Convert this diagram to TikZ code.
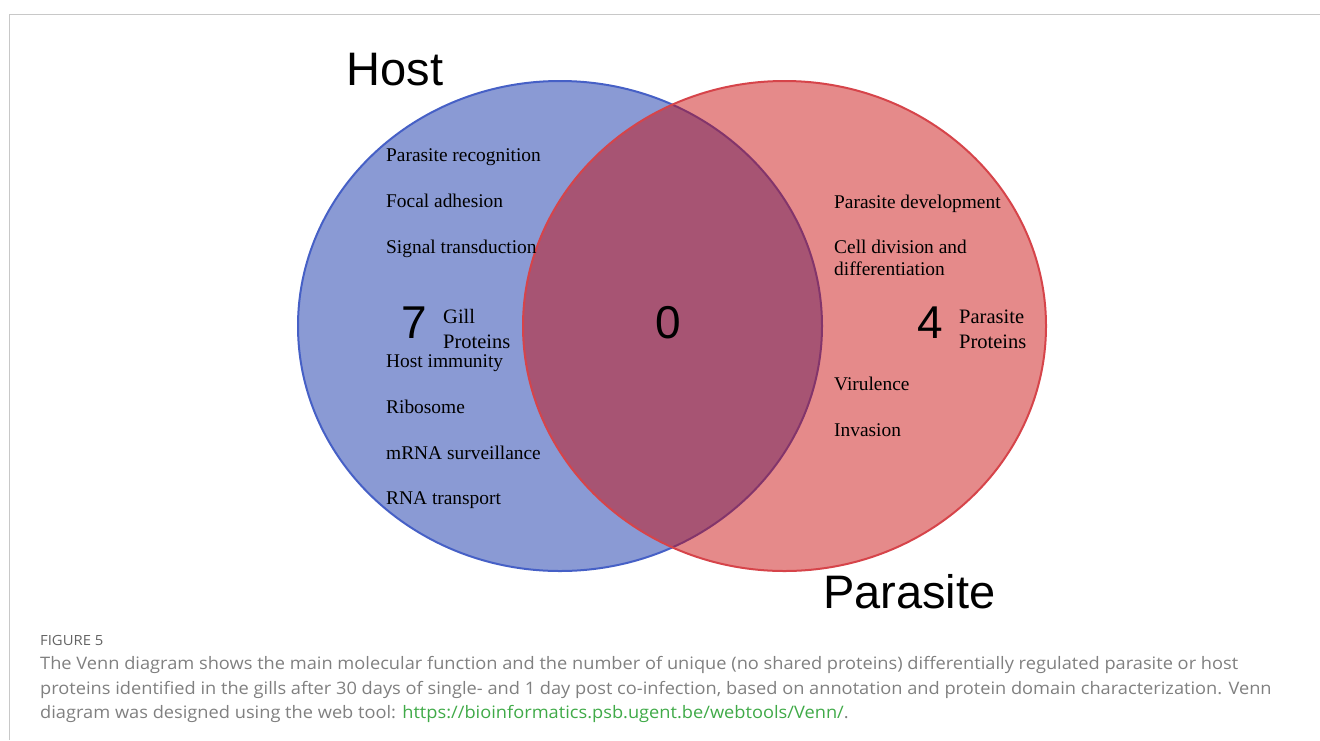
\documentclass[tikz,border=0pt]{standalone}
\usepackage{fontspec}
\setmainfont{Liberation Serif}
\newfontfamily\bigsans{Liberation Sans}
\newfontfamily\capfont[FakeStretch=1.06]{Open Sans}
\definecolor{framegray}{RGB}{200,200,200}
\definecolor{hostfill}{RGB}{138,154,212}
\definecolor{hoststroke}{RGB}{70,96,198}
\definecolor{parafill}{RGB}{200,6,6}
\definecolor{parastroke}{RGB}{214,68,74}
\definecolor{captext}{RGB}{128,128,128}
\definecolor{capfig}{RGB}{100,100,100}
\definecolor{linkgreen}{RGB}{64,170,72}
\tikzset{
  lbl/.style={anchor=base west, inner sep=0pt, font=\fontsize{19.4}{22}\selectfont},
  biglbl/.style={anchor=base west, inner sep=0pt, font=\bigsans\fontsize{47}{54}\selectfont},
  num/.style={anchor=base, inner sep=0pt, font=\bigsans\fontsize{46}{52}\selectfont},
  grp/.style={anchor=base west, inner sep=0pt, align=left, font=\fontsize{20.5}{25}\selectfont},
  captxt/.style={anchor=base west, inner sep=0pt, text=captext, font=\capfont\fontsize{17.2}{20}\selectfont},
}
\begin{document}
\begin{tikzpicture}[x=1pt,y=-1pt]
\useasboundingbox (0,0) rectangle (1320,740);
% frame
\draw[framegray, line width=1pt] (9.5,740) -- (9.5,14.5) -- (1320,14.5);
% circles
\draw[fill=hostfill, draw=hoststroke, line width=2pt] (560,326) ellipse [x radius=262, y radius=245];
\draw[fill=parafill, fill opacity=0.47, draw=parastroke, line width=2pt] (784.5,326) ellipse [x radius=261.5, y radius=245];
% titles
\node[biglbl] (host) at (346.5,85) {Host};
\node[biglbl] (parasite) at (823,608) {Parasite};
% numbers
\node[num] (n7) at (414,338) {7};
\node[num] (n0) at (668.5,338) {0};
\node[num] (n4) at (930,338) {4};
\node[grp] (gill) at (443,348) {Gill\\Proteins};
\node[grp] (pp) at (959,348) {Parasite\\Proteins};
% host labels
\node[lbl] (h1) at (386,161) {Parasite recognition};
\node[lbl] (h2) at (386,207) {Focal adhesion};
\node[lbl] (h3) at (386,253) {Signal transduction};
\node[lbl] (h4) at (386,367) {Host immunity};
\node[lbl] (h5) at (386,413) {Ribosome};
\node[lbl] (h6) at (386,459) {mRNA surveillance};
\node[lbl] (h7) at (386,504) {RNA transport};
% parasite labels
\node[lbl] (p1) at (834,208) {Parasite development};
\node[lbl] (p2) at (834,253) {Cell division and};
\node[lbl] (p3) at (834,275) {differentiation};
\node[lbl] (p4) at (834,390) {Virulence};
\node[lbl] (p5) at (834,436) {Invasion};
% caption
\node[captxt, text=capfig, font=\capfont\fontsize{14}{16}\selectfont] (fig) at (40,645) {FIGURE 5};
\node[captxt] (c1) at (40,669) {The Venn diagram shows the main molecular function and the number of unique (no shared proteins) differentially regulated parasite or host};
\node[captxt] (c2) at (40,694) {proteins identified in the gills after 30 days of single- and 1 day post co-infection, based on annotation and protein domain characterization. Venn};
\node[captxt] (c3) at (40,718) {diagram was designed using the web tool: \textcolor{linkgreen}{https://bioinformatics.psb.ugent.be/webtools/Venn/}.};
\end{tikzpicture}
\end{document}
